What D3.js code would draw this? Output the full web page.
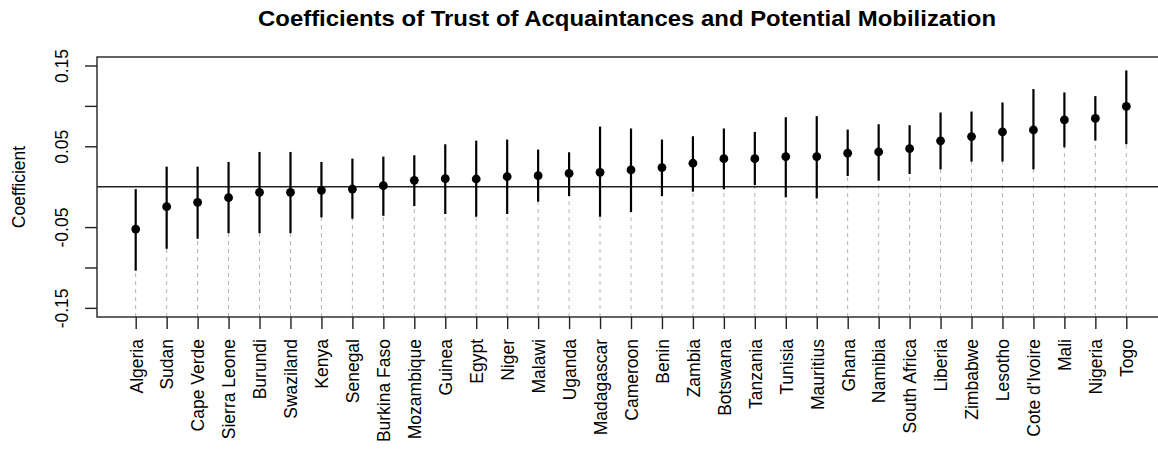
<!DOCTYPE html>
<html>
<head>
<meta charset="utf-8">
<script src="https://cdn.jsdelivr.net/npm/d3@7"></script>
<style>
  body { margin: 0; background: #fff; }
  svg { display: block; font-family: "Liberation Sans", Arial, sans-serif; }
</style>
</head>
<body>
<svg id="chart" width="1158" height="455"></svg>
<script>
// countries, sorted by coefficient
const countries = ["Algeria", "Sudan", "Cape Verde", "Sierra Leone", "Burundi", "Swaziland",
  "Kenya", "Senegal", "Burkina Faso", "Mozambique", "Guinea", "Egypt", "Niger", "Malawi",
  "Uganda", "Madagascar", "Cameroon", "Benin", "Zambia", "Botswana", "Tanzania", "Tunisia",
  "Mauritius", "Ghana", "Namibia", "South Africa", "Liberia", "Zimbabwe", "Lesotho",
  "Cote d'Ivoire", "Mali", "Nigeria", "Togo"];

const coef = [-0.0525, -0.0248, -0.0194, -0.0136, -0.0070, -0.0070, -0.0045, -0.0029, 0.0012,
  0.0079, 0.0099, 0.0095, 0.0124, 0.0136, 0.0165, 0.0178, 0.0207, 0.0236, 0.0290, 0.0347,
  0.0347, 0.0372, 0.0372, 0.0414, 0.0430, 0.0471, 0.0567, 0.0620, 0.0678, 0.0703, 0.0827,
  0.0844, 0.0993];

const lower = [-0.104, -0.0769, -0.0645, -0.0575, -0.0575, -0.0575, -0.0380, -0.0397, -0.0360,
  -0.0240, -0.0339, -0.0372, -0.0339, -0.0186, -0.0116, -0.0372, -0.0314, -0.0116, -0.0062,
  -0.0033, 0.0021, -0.0132, -0.0145, 0.0132, 0.0074, 0.0157, 0.0215, 0.0310, 0.0310, 0.0215,
  0.0488, 0.0571, 0.0525];

const upper = [-0.0030, 0.0248, 0.0248, 0.0306, 0.0430, 0.0430, 0.0306, 0.0347, 0.0372,
  0.0389, 0.0525, 0.0570, 0.0583, 0.0459, 0.0426, 0.0744, 0.0720, 0.0583, 0.0624, 0.0720,
  0.0678, 0.0860, 0.0873, 0.0707, 0.0773, 0.0761, 0.0918, 0.0930, 0.1042, 0.1208, 0.1166,
  0.1121, 0.1439];

const yTicks = [-0.15, -0.10, -0.05, 0.05, 0.10, 0.15];
const yLabelled = [-0.15, -0.05, 0.05, 0.15];

const TOP = 57, BOTTOM = 317, LEFT = 97, RIGHT = 1165;

const svg = d3.select("#chart");

const x = d3.scalePoint()
  .domain(countries)
  .range([LEFT, RIGHT])
  .padding(1.25);

const y = d3.scaleLinear()
  .domain([-0.1613, 0.1605])
  .range([BOTTOM, TOP]);

const rows = countries.map((c, i) => ({ name: c, est: coef[i], lo: lower[i], hi: upper[i] }));

// title (the original plot is a bit stretched sideways)
svg.append("text")
  .attr("x", 258)
  .attr("y", 26)
  .attr("textLength", 738)
  .attr("lengthAdjust", "spacingAndGlyphs")
  .style("font-weight", "bold")
  .style("font-size", "22px")
  .text("Coefficients of Trust of Acquaintances and Potential Mobilization");

// y axis label
svg.append("text")
  .attr("transform", `translate(25, ${(TOP + BOTTOM) / 2}) rotate(-90)`)
  .attr("text-anchor", "middle")
  .style("font-size", "17.5px")
  .text("Coefficient");

// dashed guides from bottom to each estimate
svg.append("g")
  .selectAll("line")
  .data(rows)
  .join("line")
  .attr("x1", d => x(d.name))
  .attr("x2", d => x(d.name))
  .attr("y1", BOTTOM)
  .attr("y2", d => y(d.est))
  .attr("stroke", "#b3b3b3")
  .attr("stroke-width", 1)
  .attr("stroke-dasharray", "4,4");

// zero line
svg.append("line")
  .attr("x1", LEFT)
  .attr("x2", RIGHT)
  .attr("y1", y(0))
  .attr("y2", y(0))
  .attr("stroke", "#222")
  .attr("stroke-width", 1.4);

// confidence intervals
svg.append("g")
  .selectAll("line")
  .data(rows)
  .join("line")
  .attr("x1", d => x(d.name))
  .attr("x2", d => x(d.name))
  .attr("y1", d => y(d.lo))
  .attr("y2", d => y(d.hi))
  .attr("stroke", "#000")
  .attr("stroke-width", 2.2);

// point estimates
svg.append("g")
  .selectAll("circle")
  .data(rows)
  .join("circle")
  .attr("cx", d => x(d.name))
  .attr("cy", d => y(d.est))
  .attr("r", 4.4)
  .attr("fill", "#000");

// box
svg.append("rect")
  .attr("x", LEFT)
  .attr("y", TOP)
  .attr("width", RIGHT - LEFT)
  .attr("height", BOTTOM - TOP)
  .attr("fill", "none")
  .attr("stroke", "#222")
  .attr("stroke-width", 1.4);

// y axis
const yAxis = svg.append("g")
  .attr("transform", `translate(${LEFT},0)`)
  .call(d3.axisLeft(y)
    .tickValues(yTicks)
    .tickSize(12)
    .tickFormat(d => yLabelled.some(v => Math.abs(v - d) < 1e-9) ? d.toFixed(2) : ""));
yAxis.select(".domain").remove();
yAxis.selectAll(".tick line").attr("stroke", "#222").attr("stroke-width", 1.4);
yAxis.selectAll(".tick text")
  .attr("x", null)
  .attr("dy", null)
  .attr("transform", "translate(-29,0) rotate(-90)")
  .attr("text-anchor", "middle")
  .attr("fill", "#000")
  .style("font-size", "17.5px")
  .style("font-family", "'Liberation Sans', Arial, sans-serif");

// x axis
const xAxis = svg.append("g")
  .attr("transform", `translate(0,${BOTTOM})`)
  .call(d3.axisBottom(x).tickSize(12));
xAxis.select(".domain").remove();
xAxis.selectAll(".tick line").attr("stroke", "#222").attr("stroke-width", 1.4);
xAxis.selectAll(".tick text")
  .attr("y", null)
  .attr("dy", "0.36em")
  .attr("transform", "translate(0,22) rotate(-90)")
  .attr("text-anchor", "end")
  .attr("fill", "#000")
  .style("font-size", "17.5px")
  .style("font-family", "'Liberation Sans', Arial, sans-serif");
</script>
</body>
</html>
